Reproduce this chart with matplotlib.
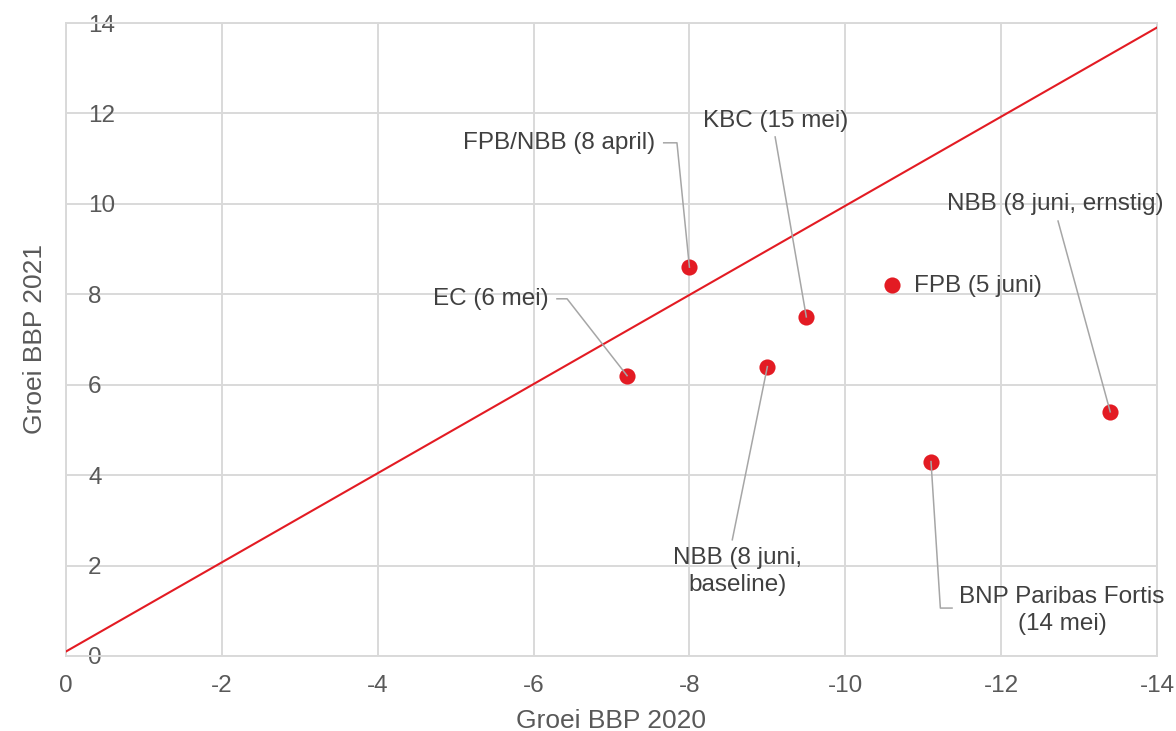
import matplotlib
matplotlib.use("Agg")
import matplotlib.pyplot as plt

plt.rcParams["font.family"] = ["Liberation Sans", "DejaVu Sans"]

# ── data ──────────────────────────────────────────────────────────────────
names = ["FPB/NBB (8 april)", "KBC (15 mei)", "EC (6 mei)",
         "NBB (8 juni,\nbaseline)", "FPB (5 juni)",
         "NBB (8 juni, ernstig)", "BNP Paribas Fortis\n(14 mei)"]
gdp_2020 = [-8.0, -9.5, -7.2, -9.0, -10.6, -13.4, -11.1]
gdp_2021 = [8.6, 7.5, 6.2, 6.4, 8.2, 5.4, 4.3]

ref_x = [0, -14]
ref_y = [0.1, 13.9]

x_ticks = [0, -2, -4, -6, -8, -10, -12, -14]
y_ticks = [0, 2, 4, 6, 8, 10, 12, 14]

# label layout: text position, alignment, leader path (before the point)
label_pos = [(-7.56, 11.35), (-9.11, 11.83), (-6.19, 7.90), (-8.62, 1.86),
             (-10.88, 8.18), (-12.69, 10.0), (-12.78, 1.0)]
label_ha = ["right", "center", "right", "center", "left", "center", "center"]
leaders = [
    [(-7.67, 11.35), (-7.84, 11.35)],
    [(-9.10, 11.48)],
    [(-6.30, 7.90), (-6.43, 7.90)],
    [(-8.55, 2.57)],
    [],
    [(-12.73, 9.62)],
    [(-11.37, 1.06), (-11.22, 1.06)],
]

RED = "#e31b23"
GRID = "#d9d9d9"
TEXT = "#404040"
TICK = "#595959"

fig = plt.figure(figsize=(11.76, 7.31), dpi=100)
ax = fig.add_axes([66 / 1176, 75 / 731, 1091 / 1176, 633 / 731])

ax.set_xlim(0, -14)
ax.set_ylim(0, 14)
ax.set_xticks(x_ticks)
ax.set_yticks(y_ticks)
ax.set_xticklabels([str(v) for v in x_ticks])
ax.set_yticklabels([str(v) for v in y_ticks])

ax.grid(True, color=GRID, linewidth=1.4)
ax.set_axisbelow(True)
for s in ax.spines.values():
    s.set_color(GRID)
    s.set_linewidth(1.4)

ax.tick_params(axis="both", length=0, labelsize=17.5, labelcolor=TICK)
ax.tick_params(axis="x", pad=14)
ax.tick_params(axis="y", pad=-16)
for lab in ax.get_yticklabels():
    lab.set_horizontalalignment("left")

ax.plot(ref_x, ref_y, color=RED, linewidth=1.5, zorder=3)
ax.scatter(gdp_2020, gdp_2021, s=135, color=RED, zorder=4, linewidths=0)

for i, name in enumerate(names):
    tx, ty = label_pos[i]
    ax.text(tx, ty, name, ha=label_ha[i], va="center", fontsize=17.5,
            color=TEXT, linespacing=1.3, zorder=6, clip_on=False)
    if leaders[i]:
        path = leaders[i] + [(gdp_2020[i], gdp_2021[i])]
        ax.plot([p[0] for p in path], [p[1] for p in path],
                color="#a6a6a6", linewidth=1.1, zorder=5, clip_on=False)

ax.set_xlabel("Groei BBP 2020", fontsize=19, color=TICK, labelpad=8)
ax.set_ylabel("Groei BBP 2021", fontsize=19, color=TICK, labelpad=14)

fig.savefig("out.png", dpi=100)
